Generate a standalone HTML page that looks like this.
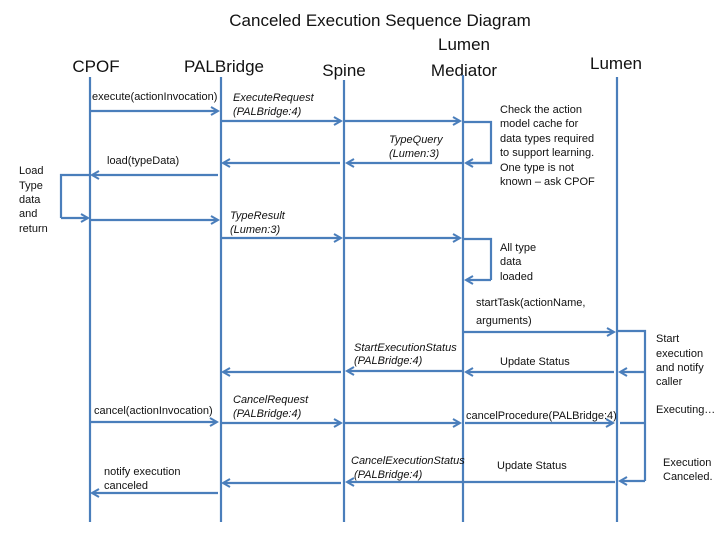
<!DOCTYPE html>
<html><head><meta charset="utf-8"><style>
html,body{margin:0;padding:0;background:#fff;}
svg{display:block;font-family:"Liberation Sans",sans-serif;}
.l{stroke:#4a7ebb;stroke-width:2.2;fill:none;}
.a{stroke:#4a7ebb;stroke-width:2.2;fill:none;marker-end:url(#ar);}
text{fill:#111;font-size:11px;}
.i{font-style:italic;}
.h{font-size:17px;}
</style></head><body>
<svg width="720" height="540" viewBox="0 0 720 540">
<defs><marker id="ar" markerWidth="10" markerHeight="10" refX="8" refY="5" orient="auto" markerUnits="userSpaceOnUse"><path d="M1,1 L8,5 L1,9" fill="none" stroke="#4a7ebb" stroke-width="2"/></marker></defs>
<text x="380" y="26" text-anchor="middle" style="font-size:17px">Canceled Execution Sequence Diagram</text>
<text class="h" x="96" y="72" text-anchor="middle">CPOF</text>
<text class="h" x="224" y="72" text-anchor="middle">PALBridge</text>
<text class="h" x="344" y="76" text-anchor="middle">Spine</text>
<text class="h" x="464" y="50" text-anchor="middle">Lumen</text>
<text class="h" x="464" y="76" text-anchor="middle">Mediator</text>
<text class="h" x="616" y="69" text-anchor="middle">Lumen</text>
<!-- lifelines -->
<line class="l" x1="90" y1="77" x2="90" y2="522"/>
<line class="l" x1="221" y1="77" x2="221" y2="522"/>
<line class="l" x1="344" y1="80" x2="344" y2="522"/>
<line class="l" x1="463" y1="75" x2="463" y2="522"/>
<line class="l" x1="617" y1="77" x2="617" y2="522"/>
<!-- messages -->
<text x="92" y="100">execute(actionInvocation)</text>
<line class="a" x1="90" y1="111" x2="218" y2="111"/>
<text class="i" x="233" y="101">ExecuteRequest</text>
<text class="i" x="233" y="115">(PALBridge:4)</text>
<line class="a" x1="221" y1="121" x2="341" y2="121"/>
<line class="a" x1="344" y1="121" x2="460" y2="121"/>
<polyline class="l" points="463,122 491,122 491,163 466,163"/>
<line class="a" x1="491" y1="163" x2="466" y2="163"/>
<text x="500" y="113">Check the action</text>
<text x="500" y="127">model cache for</text>
<text x="500" y="142">data types required</text>
<text x="500" y="156">to support learning.</text>
<text x="500" y="171">One type is not</text>
<text x="500" y="185">known – ask CPOF</text>
<text class="i" x="389" y="143">TypeQuery</text>
<text class="i" x="389" y="157">(Lumen:3)</text>
<line class="a" x1="463" y1="163" x2="347" y2="163"/>
<line class="a" x1="340" y1="163" x2="223" y2="163"/>
<text x="107" y="164">load(typeData)</text>
<line class="a" x1="218" y1="175" x2="92" y2="175"/>
<polyline class="l" points="90,175 61,175 61,218"/>
<line class="a" x1="61" y1="218" x2="88" y2="218"/>
<text x="19" y="174">Load</text>
<text x="19" y="189">Type</text>
<text x="19" y="203">data</text>
<text x="19" y="217">and</text>
<text x="19" y="232">return</text>
<line class="a" x1="90" y1="220" x2="218" y2="220"/>
<text class="i" x="230" y="219">TypeResult</text>
<text class="i" x="230" y="233">(Lumen:3)</text>
<line class="a" x1="221" y1="238" x2="341" y2="238"/>
<line class="a" x1="344" y1="238" x2="460" y2="238"/>
<polyline class="l" points="463,239 491,239 491,280"/>
<line class="a" x1="491" y1="280" x2="466" y2="280"/>
<text x="500" y="251">All type</text>
<text x="500" y="265">data</text>
<text x="500" y="280">loaded</text>
<text x="476" y="306">startTask(actionName,</text>
<text x="476" y="324">arguments)</text>
<line class="a" x1="463" y1="332" x2="614" y2="332"/>
<polyline class="l" points="618,331 645,331 645,481"/>
<line class="a" x1="645" y1="372" x2="620" y2="372"/>
<line class="l" x1="620" y1="423" x2="645" y2="423"/>
<line class="a" x1="645" y1="481" x2="620" y2="481"/>
<text x="656" y="342">Start</text>
<text x="656" y="357">execution</text>
<text x="656" y="371">and notify</text>
<text x="656" y="385">caller</text>
<text x="656" y="413">Executing…</text>
<text x="663" y="466">Execution</text>
<text x="663" y="480">Canceled.</text>
<text x="500" y="365">Update Status</text>
<line class="a" x1="614" y1="372" x2="466" y2="372"/>
<text class="i" x="354" y="351">StartExecutionStatus</text>
<text class="i" x="354" y="364">(PALBridge:4)</text>
<line class="a" x1="462" y1="371" x2="347" y2="371"/>
<line class="a" x1="341" y1="372" x2="223" y2="372"/>
<text x="94" y="414">cancel(actionInvocation)</text>
<line class="a" x1="90" y1="422" x2="217" y2="422"/>
<text class="i" x="233" y="403">CancelRequest</text>
<text class="i" x="233" y="417">(PALBridge:4)</text>
<line class="a" x1="221" y1="423" x2="341" y2="423"/>
<line class="a" x1="344" y1="423" x2="460" y2="423"/>
<text x="466" y="419">cancelProcedure(PALBridge:4)</text>
<line class="a" x1="465" y1="423" x2="613" y2="423"/>
<text x="497" y="469">Update Status</text>
<text class="i" x="351" y="464">CancelExecutionStatus</text>
<text class="i" x="354" y="478">(PALBridge:4)</text>
<line class="a" x1="615" y1="482" x2="347" y2="482"/>
<line class="a" x1="341" y1="483" x2="223" y2="483"/>
<text x="104" y="475">notify execution</text>
<text x="104" y="489">canceled</text>
<line class="a" x1="218" y1="493" x2="92" y2="493"/>
</svg>
</body></html>
